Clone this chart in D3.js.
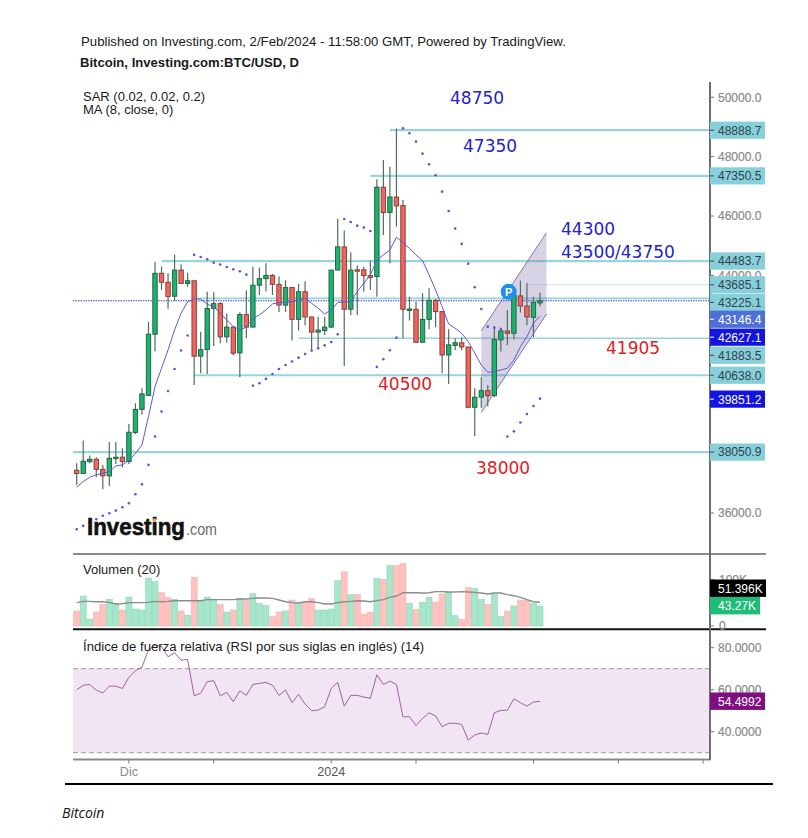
<!DOCTYPE html>
<html>
<head>
<meta charset="utf-8">
<script src="https://cdnjs.cloudflare.com/ajax/libs/d3/7.8.5/d3.min.js"></script>
<style>
  html, body { margin: 0; padding: 0; background: #fff; }
  svg { display: block; }
  text { font-family: "Liberation Sans", Arial, sans-serif; }
</style>
</head>
<body>
<div id="my-svg"></div>
<script>
// candles
const opens = [37440,37330,37730,37810,37470,37250,37830,37880,37730,38710,39490,39960,42020,44070,43770,43300,44180,43730,43820,41280,41500,42890,43050,41930,42260,41390,42680,42260,43670,43890,44000,43700,43000,43590,42520,43450,42600,42090,42140,42260,44180,44960,42860,44190,44190,44000,43960,46970,46120,46640,46350,42840,42860,41750,42520,43160,42780,41320,41640,41730,41590,39560,39900,40120,39950,41830,42130,42050,43310,42970,42590,43072];
const highs = [37675,38440,37935,37880,37620,38390,38390,38180,39000,39695,40200,42430,44460,44295,44070,44700,44375,44090,43820,42100,43450,43430,43095,42720,42300,42760,43490,44295,44260,44405,44050,43960,43835,43620,43710,43800,42610,42610,42610,44180,45910,45510,44780,44340,44295,44500,47235,47885,47660,48950,46540,43285,43115,43400,43565,43205,42800,42185,41880,41915,41600,40200,40570,40310,42275,42240,42835,43340,43825,43755,43285,43420];
const lows = [36945,37330,37675,37205,36800,36910,37650,37530,37650,38660,39315,39965,41445,43510,42880,43140,43735,43620,40310,40705,40680,41625,41715,41735,41300,40570,41885,42255,43340,43455,43340,42770,42770,41805,42140,42310,41435,41545,41995,42220,44180,40950,42655,42670,43455,43510,43285,45360,44405,45640,41885,42480,41735,41735,42185,42255,40705,40345,41490,41490,39540,38595,39540,39585,39895,41435,41660,41850,42745,42320,41915,42950];
const closes = [37330,37745,37810,37470,37250,37845,37880,37730,38720,39490,40010,42020,44070,43770,43290,44180,43730,43820,41280,41500,42890,43050,41930,42260,41380,42680,42260,43670,43890,44000,43700,43000,43590,42520,43450,42600,42090,42160,42260,44180,44960,42860,44180,44160,43990,43925,46970,46120,46640,46340,42860,42870,41750,42520,43160,42780,41320,41660,41730,41590,39560,39900,40120,39950,41840,42130,42050,43340,42970,42600,43095,43146];

// MA (8, close, 0)
const ma8 = [36870,37060,37205,37285,37340,37395,37585,37620,37765,38010,38290,39245,40255,40875,41490,42165,42725,43115,43205,43205,43025,42950,42725,42500,42275,42165,42255,42555,42670,42835,43040,43085,43085,43115,43175,43230,43060,42895,42700,42835,43085,43115,43115,43455,43735,44015,44520,44690,44855,45285,45105,44910,44690,44495,44015,43510,42950,42365,42220,42050,41770,41380,40985,40740,40760,40815,40875,41155,41600,41940,42390,42627];

// SAR (0.02, 0.02, 0.2)
const sar = [35455,35565,35680,35790,35905,35990,36080,36195,36330,36630,36970,37620,38575,39415,40110,40850,41470,41975,44690,44620,44540,44430,44365,44285,44205,44140,44025,40290,40370,40515,40680,40850,40985,41100,41230,41355,41470,41545,41645,41760,42020,45900,45800,45675,45610,45495,40920,41175,41480,41905,48950,48785,48505,48100,47740,47370,46820,46170,45575,45060,44395,43600,42870,42275,42240,42195,38575,38750,39045,39335,39605,39851];

// Volumen (20), in thousands
const volume = [32.4,64.9,15.1,30.3,46.9,57.7,49.0,34.6,62.7,36.8,34.6,103.8,95.9,72.1,62.0,57.7,32.4,23.1,105.3,54.1,62.7,57.7,46.9,30.3,34.6,59.8,56.2,69.9,49.0,44.0,20.2,30.3,32.4,56.2,49.0,50.5,59.8,34.6,34.6,36.8,98.1,117.5,67.8,67.8,25.2,30.3,103.1,100.9,131.2,131.2,135.5,49.0,36.0,51.2,62.0,51.9,69.2,72.8,22.4,14.4,83.6,81.5,57.7,46.9,69.2,20.2,32.4,43.3,56.2,54.8,49.0,43.27];
const volumeMa = [50.5,53.4,53.4,52.6,52.6,51.2,47.6,48.3,50.5,50.5,50.5,51.2,53.4,52.6,53.4,54.8,54.8,54.8,54.8,54.8,57.0,57.0,57.0,57.0,57.0,58.4,58.4,59.8,60.6,60.6,59.8,56.2,52.6,50.5,49.7,52.6,52.6,50.5,47.6,47.6,50.5,52.6,53.4,54.8,54.1,52.6,54.8,57.0,62.0,64.9,72.1,72.1,72.1,71.4,72.1,74.3,74.3,73.5,73.5,74.3,73.5,72.8,71.4,69.2,71.4,71.4,67.8,65.6,62.0,57.0,52.6,51.4];

// RSI (14)
const rsi = [60.0,62.1,62.5,59.8,58.4,61.7,61.7,60.6,65.9,69.0,70.8,78.9,81.3,80.5,75.7,77.6,74.1,74.4,57.1,58.3,63.8,64.3,57.1,58.7,54.3,59.4,57.3,62.5,63.0,63.5,62.1,57.3,59.8,53.8,57.8,53.2,50.0,50.3,51.9,60.6,63.5,52.2,57.3,57.3,56.5,55.9,67.1,62.5,64.1,62.5,47.1,47.1,43.0,46.3,49.0,47.5,42.4,44.0,44.0,43.5,36.0,38.4,39.4,38.7,49.0,50.2,50.2,55.7,53.8,52.2,54.1,54.5];

// horizontal levels and the candle each one starts from
const levels = [48888.7,47350.5,44483.7,43685.1,43225.1,41883.5,40638.0,38050.9];
const levelStarts = [48,45,13,69,18,34,18,-0.6];

// drawn channel
const channelIndex = [62,72,72,62];
const channelPrice = [42130,45440,42700,39380];

const priceTicks = [50000,48000,46000,44000,36000];
const volumeTicks = ["100K","0"];
const volumeTickValues = [100,0];
const rsiTicks = [80,60,40];
const timeTickIndex = [8,21,39,52,70,83,96];
const timeTickLabels = ["Dic","","2024","","","",""];

const notes = ["48750","47350","44300","43500/43750","41905","40500","38000"];
const noteColors = ["#2323c8","#2323c8","#2323c8","#2323c8","#e0201c","#e0201c","#e0201c"];
const noteSpots = [[450,104],[463,152],[561,235],[561,258],[606,354],[378,390],[476,474]];

const width = 808, height = 838;
const right = 710;

const x = d3.scaleLinear().domain([0, 71]).range([76.7, 540]);
const y = d3.scaleLinear().domain([36000, 50000]).range([513, 97.2]);
const yVol = d3.scaleLinear().domain([0, 100]).range([626, 579.8]);
const yRsi = d3.scaleLinear().domain([30, 80]).range([752.7, 647.7]);

const svg = d3.select("#my-svg").append("svg")
    .attr("width", width)
    .attr("height", height);

// ---------- main pane ----------
// price levels go under the candles
svg.append("g").selectAll("line")
    .data(levels)
    .join("line")
      .attr("x1", (d, i) => x(levelStarts[i]))
      .attr("x2", right)
      .attr("y1", d => y(d))
      .attr("y2", d => y(d))
      .attr("stroke", (d, i) => i == 3 ? "#c6e6ea" : "#97d4dd")
      .attr("stroke-width", (d, i) => i == 3 ? 1.2 : (i == 4 || i == 5) ? 1.6 : 2.2);

const channel = d3.line().x((d, i) => x(channelIndex[i])).y(d => y(d));
svg.append("path")
    .attr("d", channel(channelPrice) + "Z")
    .attr("fill", "#7d6ba8")
    .attr("fill-opacity", 0.3)
    .attr("stroke", "none");
[[0, 1], [3, 2]].forEach(p => {
  svg.append("line")
      .attr("x1", x(channelIndex[p[0]]))
      .attr("x2", x(channelIndex[p[1]]))
      .attr("y1", y(channelPrice[p[0]]))
      .attr("y2", y(channelPrice[p[1]]))
      .attr("stroke", "#8a74a6")
      .attr("stroke-width", 1);
});

// last price, dotted
svg.append("line")
    .attr("x1", 73)
    .attr("x2", right)
    .attr("y1", y(43146.4))
    .attr("y2", y(43146.4))
    .attr("stroke", "#2f48c4")
    .attr("stroke-width", 1)
    .attr("stroke-dasharray", "1.5,1");

const candleIdx = d3.range(opens.length);
const isUp = i => closes[i] >= opens[i];

svg.append("g").selectAll("line")
    .data(candleIdx)
    .join("line")
      .attr("x1", i => x(i))
      .attr("x2", i => x(i))
      .attr("y1", i => y(highs[i]))
      .attr("y2", i => y(lows[i]))
      .attr("stroke", "#4f6f5c")
      .attr("stroke-width", 1.2);

svg.append("g").selectAll("rect")
    .data(candleIdx)
    .join("rect")
      .attr("x", i => x(i) - 2.2)
      .attr("width", 4.4)
      .attr("y", i => y(Math.max(opens[i], closes[i])))
      .attr("height", i => Math.max(1.5, Math.abs(y(opens[i]) - y(closes[i]))))
      .attr("fill", i => isUp(i) ? "#1eb26f" : "#f2655c")
      .attr("stroke", i => isUp(i) ? "#1c5c3e" : "#7c3a36")
      .attr("stroke-width", 0.9);

svg.append("path")
    .datum(ma8)
    .attr("d", d3.line().x((d, i) => x(i)).y(d => y(d)))
    .attr("fill", "none")
    .attr("stroke", "#5c5cd6")
    .attr("stroke-width", 1);

svg.append("g").selectAll("circle")
    .data(sar)
    .join("circle")
      .attr("cx", (d, i) => x(i))
      .attr("cy", d => y(d))
      .attr("r", 1.3)
      .attr("fill", "#5a55d8");

// pivot badge
svg.append("circle")
    .attr("cx", x(66.2))
    .attr("cy", y(43450))
    .attr("r", 8)
    .attr("fill", "#1e90e8");
svg.append("text")
    .attr("x", x(66.2))
    .attr("y", y(43450) + 4)
    .attr("text-anchor", "middle")
    .attr("font-size", 11)
    .attr("font-weight", "bold")
    .attr("fill", "#fff")
    .text("P");

// handwritten targets
svg.append("g").selectAll("text")
    .data(notes)
    .join("text")
      .attr("x", (d, i) => noteSpots[i][0])
      .attr("y", (d, i) => noteSpots[i][1])
      .attr("fill", (d, i) => noteColors[i])
      .style("font-family", "'DejaVu Sans'")
      .style("font-size", "17px")
      .text(d => d);

// logo
svg.append("text")
    .attr("x", 87)
    .attr("y", 535)
    .attr("font-size", 23)
    .attr("font-weight", "bold")
    .attr("fill", "#111")
    .attr("stroke", "#111")
    .attr("stroke-width", 0.6)
    .attr("textLength", 98)
    .attr("lengthAdjust", "spacingAndGlyphs")
    .text("Investing");
svg.append("text")
    .attr("x", 186)
    .attr("y", 535)
    .attr("font-size", 16)
    .attr("fill", "#6b6b6b")
    .attr("textLength", 31)
    .attr("lengthAdjust", "spacingAndGlyphs")
    .text(".com");
svg.append("circle")
    .attr("cx", 154.5)
    .attr("cy", 520)
    .attr("r", 1.8)
    .attr("fill", "#f0a020");

// ---------- volume pane ----------
svg.append("g").selectAll("rect")
    .data(volume)
    .join("rect")
      .attr("x", (d, i) => x(i) - 3)
      .attr("width", 6)
      .attr("y", d => yVol(d))
      .attr("height", d => yVol(0) - yVol(d))
      .attr("fill", (d, i) => isUp(i) ? "#a6e6cb" : "#ffc2be")
      .attr("stroke", (d, i) => isUp(i) ? "#8ed8b8" : "#f5b4b0")
      .attr("stroke-width", 0.6);

svg.append("path")
    .datum(volumeMa)
    .attr("d", d3.line().x((d, i) => x(i)).y(d => yVol(d)))
    .attr("fill", "none")
    .attr("stroke", "#8c8c8c")
    .attr("stroke-width", 1.4);

// ---------- rsi pane ----------
svg.append("rect")
    .attr("x", 73)
    .attr("width", right - 73)
    .attr("y", yRsi(70))
    .attr("height", yRsi(30) - yRsi(70))
    .attr("fill", "#f1e5f3");

[70, 30].forEach(v => {
  svg.append("line")
      .attr("x1", 73)
      .attr("x2", right)
      .attr("y1", yRsi(v))
      .attr("y2", yRsi(v))
      .attr("stroke", "#a09aa2")
      .attr("stroke-width", 1)
      .attr("stroke-dasharray", "5,3");
});

svg.append("path")
    .datum(rsi)
    .attr("d", d3.line().x((d, i) => x(i)).y(d => yRsi(d)))
    .attr("fill", "none")
    .attr("stroke", "#a25fa8")
    .attr("stroke-width", 1);

// ---------- frame ----------
const frame = [
  [73, 766, 554, 554, "#8a8a8a", 2],
  [73, 766, 629.3, 629.3, "#111", 2],
  [73, 711, 759.5, 759.5, "#8a8a8a", 2],
  [right, right, 82, 760, "#6e6e6e", 2],
  [65, 773, 784, 784, "#000", 2]
];
svg.append("g").selectAll("line")
    .data(frame)
    .join("line")
      .attr("x1", d => d[0])
      .attr("x2", d => d[1])
      .attr("y1", d => d[2])
      .attr("y2", d => d[3])
      .attr("stroke", d => d[4])
      .attr("stroke-width", d => d[5]);

// ---------- axes ----------
const axisText = (g, px, py, label) => {
  g.append("line")
      .attr("x1", right)
      .attr("x2", right + 4)
      .attr("y1", py)
      .attr("y2", py)
      .attr("stroke", "#777");
  g.append("text")
      .attr("x", px)
      .attr("y", py + 4.4)
      .attr("font-size", 12)
      .attr("fill", "#8a8a8a")
      .attr("stroke", "#8a8a8a")
      .attr("stroke-width", 0.2)
      .text(label);
};
const axes = svg.append("g");
priceTicks.forEach(v => axisText(axes, 718, y(v), d3.format(".1f")(v)));
volumeTicks.forEach((t, i) => axisText(axes, 719, yVol(volumeTickValues[i]), t));
rsiTicks.forEach(v => axisText(axes, 718, yRsi(v), d3.format(".4f")(v)));

// time axis
svg.append("g").selectAll("line")
    .data(timeTickIndex)
    .join("line")
      .attr("x1", d => x(d))
      .attr("x2", d => x(d))
      .attr("y1", 760)
      .attr("y2", 763.5)
      .attr("stroke", "#777");
svg.append("g").selectAll("text")
    .data(timeTickLabels)
    .join("text")
      .attr("x", (d, i) => x(timeTickIndex[i]))
      .attr("y", 776)
      .attr("text-anchor", "middle")
      .attr("font-size", 12.6)
      .attr("fill", (d, i) => i == 0 ? "#8a8a8a" : "#555")
      .text(d => d);

// ---------- value boxes on the right ----------
const boxValues = [48888.7,47350.5,44483.7,43685.1,43225.1,43146.4,42627.1,41883.5,40638.0,39851.2,38050.9];
const boxColors = ["#87cfdb","#87cfdb","#87cfdb","#87cfdb","#87cfdb","#4d6fd6","#1414e0","#87cfdb","#87cfdb","#1414e0","#87cfdb"];
const boxNudge = [0,0,0,0,4,18.5,21,17,0,0.5,0]; // labels pushed apart so they do not overlap

const boxes = svg.append("g").selectAll("g")
    .data(boxValues)
    .join("g")
      .attr("transform", (d, i) => `translate(${right},${y(d) + boxNudge[i]})`);
boxes.append("rect")
    .attr("x", 0)
    .attr("y", -8.6)
    .attr("width", 55)
    .attr("height", 17.2)
    .attr("fill", (d, i) => boxColors[i]);
boxes.append("line")
    .attr("x1", 0)
    .attr("x2", 4)
    .attr("stroke", (d, i) => (i == 5 || i == 6 || i == 9) ? "#fff" : "#444");
boxes.append("text")
    .attr("x", 8)
    .attr("y", 4.4)
    .attr("font-size", 12)
    .attr("fill", (d, i) => (i == 5 || i == 6 || i == 9) ? "#fff" : "#33434a")
    .text(d => d3.format(".1f")(d));

const sideBox = (top, w, fill, label) => {
  const g = svg.append("g");
  g.append("rect")
      .attr("x", right)
      .attr("y", top)
      .attr("width", w)
      .attr("height", 17.4)
      .attr("fill", fill);
  g.append("text")
      .attr("x", right + 8)
      .attr("y", top + 13)
      .attr("font-size", 12)
      .attr("fill", "#fff")
      .text(label);
};
sideBox(579.5, 56, "#000", "51.396K");
sideBox(597, 50, "#1fbd78", "43.27K");
sideBox(692.5, 55, "#7f0e80", "54.4992");

// ---------- titles ----------
const title = (tx, ty, size, label, weight) => {
  svg.append("text")
      .attr("x", tx)
      .attr("y", ty)
      .attr("font-size", size)
      .attr("font-weight", weight || "normal")
      .attr("fill", "#1a1a1a")
      .text(label);
};
title(81, 45.5, 13.2, "Published on Investing.com, 2/Feb/2024 - 11:58:00 GMT, Powered by TradingView.");
title(80, 67.3, 13.1, "Bitcoin, Investing.com:BTC/USD, D", "bold");
title(83, 101, 13, "SAR (0.02, 0.02, 0.2)");
title(83, 113.5, 13, "MA (8, close, 0)");
title(83, 573.5, 13, "Volumen (20)");
title(83, 650.5, 13.15, "Índice de fuerza relativa (RSI por sus siglas en inglés) (14)");

svg.append("text")
    .attr("x", 62)
    .attr("y", 818)
    .attr("fill", "#111")
    .style("font-family", "'Open Sans'")
    .style("font-style", "italic")
    .style("font-size", "14px")
    .text("Bitcoin");
</script>
</body>
</html>
